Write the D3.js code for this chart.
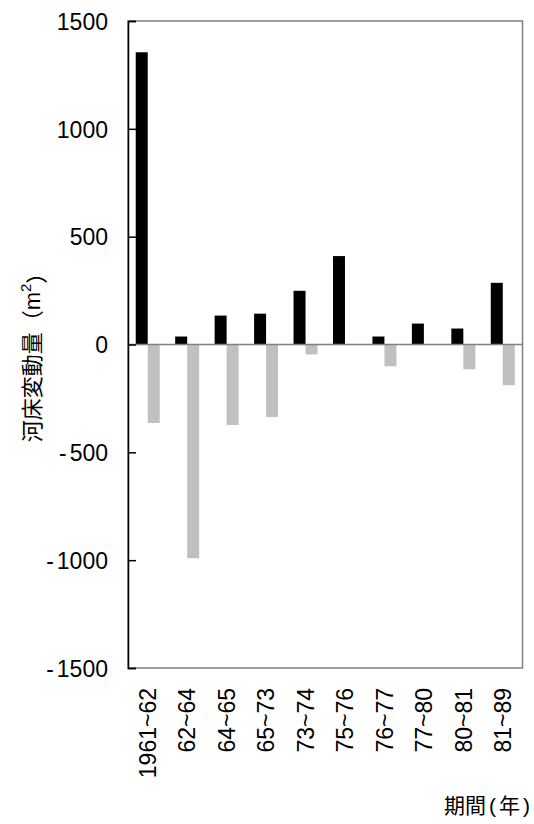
<!DOCTYPE html>
<html>

<head>
    <meta charset="utf-8">
    <style>
        body {
            margin: 0;
            background: #fff;
        }

        svg {
            font-family: 'Liberation Sans', Arial, 'Noto Sans CJK JP', sans-serif;
        }

        .axis text {
            font-size: 23px;
            fill: #000;
        }
    </style>
</head>

<body>
    <svg width="534" height="824"></svg>
</body>

<script src="https://d3js.org/d3.v7.min.js"></script>

<script>
    // periods on the x axis
    let periods = ["1961~62", "62~64", "64~65", "65~73", "73~74",
        "75~76", "76~77", "77~80", "80~81", "81~89"];
    // black bars (deposition) and grey bars (erosion), m2
    let deposit = [1355, 37, 134, 143, 249, 410, 37, 97, 74, 286];
    let erosion = [-364, -991, -373, -336, -46, 0, -101, 0, -115, -189];
    let yTicks = [-1500, -1000, -500, 0, 500, 1000, 1500];

    let width = 534;
    let height = 824;
    let margin = { top: 21, right: 11.5, bottom: 156, left: 128 };

    let svg = d3.select("svg");

    let x = d3.scaleBand()
        .domain(periods)
        .range([margin.left, width - margin.right])
        .padding(0);

    let x1 = d3.scaleBand()
        .domain(["deposit", "erosion"])
        .range([0, x.bandwidth()])
        .paddingInner(0)
        .paddingOuter(0.645);

    let y = d3.scaleLinear()
        .domain([-1500, 1500])
        .range([height - margin.bottom, margin.top]);

    // plot frame (grey)
    svg.append("rect")
        .attr("x", margin.left)
        .attr("y", margin.top)
        .attr("width", width - margin.right - margin.left)
        .attr("height", height - margin.bottom - margin.top)
        .attr("fill", "none")
        .attr("stroke", "#808080")
        .attr("stroke-width", 1.5);

    let rows = periods.map((p, i) => ({ p: p, dep: deposit[i], ero: erosion[i] }));

    svg.selectAll(".dep")
        .data(rows)
        .enter().append("rect")
        .attr("class", "dep")
        .attr("fill", "#000")
        .attr("x", d => x(d.p) + x1("deposit"))
        .attr("width", x1.bandwidth())
        .attr("y", d => y(d.dep))
        .attr("height", d => y(0) - y(d.dep));

    svg.selectAll(".ero")
        .data(rows)
        .enter().append("rect")
        .attr("class", "ero")
        .attr("fill", "#c0c0c0")
        .attr("x", d => x(d.p) + x1("erosion"))
        .attr("width", x1.bandwidth())
        .attr("y", y(0))
        .attr("height", d => y(d.ero) - y(0));

    // zero line
    svg.append("line")
        .attr("x1", margin.left)
        .attr("x2", width - margin.right)
        .attr("y1", y(0))
        .attr("y2", y(0))
        .attr("stroke", "#808080")
        .attr("stroke-width", 1.5);

    // y axis, ticks pointing inward
    let yAxis = svg.append("g")
        .attr("class", "axis")
        .attr("transform", `translate(${margin.left},0)`)
        .call(d3.axisLeft(y)
            .tickValues(yTicks)
            .tickSize(-8)
            .tickPadding(20)
            .tickFormat(d => d));
    yAxis.select(".domain").attr("stroke", "#000").attr("stroke-width", 1.5);
    yAxis.selectAll(".tick line").attr("stroke", "#000").attr("stroke-width", 1.5);
    yAxis.selectAll(".tick text").attr("dy", "0.36em")
        .each(function (d) {
            // small gap after the minus sign, like the original
            if (d < 0) {
                let t = d3.select(this);
                t.text("-");
                t.append("tspan").attr("dx", 3).text(Math.abs(d));
            }
        });

    // x labels, rotated
    svg.append("g")
        .attr("class", "axis")
        .selectAll("text")
        .data(periods)
        .enter().append("text")
        .attr("transform", d => `translate(${x(d) + x.bandwidth() / 2},${y(-1500) + 20}) rotate(-90)`)
        .attr("text-anchor", "end")
        .attr("dy", "0.36em")
        .text(d => d);

    // axis titles
    let yTitle = svg.append("text")
        .attr("transform", `translate(40,352) rotate(-90)`)
        .attr("text-anchor", "middle")
        .style("font-size", "22px")
        .text("河床変動量（m");
    yTitle.append("tspan")
        .attr("dy", "-0.6em")
        .style("font-size", "15px")
        .text("2");
    yTitle.append("tspan")
        .attr("dy", "0.6em")
        .text("）");

    let xTitle = svg.append("text")
        .attr("x", 530)
        .attr("y", 813)
        .attr("text-anchor", "end")
        .style("font-size", "21px")
        .text("期間");
    xTitle.append("tspan").attr("dx", 3).text("(");
    xTitle.append("tspan").attr("dx", 3).text("年");
    xTitle.append("tspan").attr("dx", 3).text(")");
</script>

</html>
